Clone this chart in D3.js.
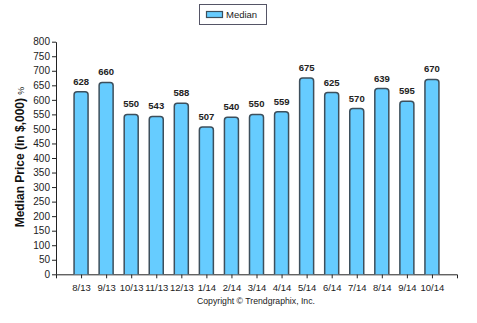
<!DOCTYPE html>
<html><head><meta charset="utf-8">
<script src="https://cdn.jsdelivr.net/npm/d3@7"></script>
<style>body{margin:0;background:#fff}svg{display:block}</style>
</head><body>
<svg id="c" width="477" height="323"></svg>
<script>
const categories = ["8/13","9/13","10/13","11/13","12/13","1/14","2/14","3/14","4/14","5/14","6/14","7/14","8/14","9/14","10/14"];
const medianValues = [628,660,550,543,588,507,540,550,559,675,625,570,639,595,670];
const yTicks = [0,50,100,150,200,250,300,350,400,450,500,550,600,650,700,750,800];

(function(){
const svg = d3.select("#c");
const mLeft = 56, mRight = 457, mTop = 41.7, mBottom = 274.3;
const font = "'Liberation Sans', Arial, sans-serif";

const x = d3.scalePoint().domain(categories).range([mLeft, mRight]).padding(1);
const y = d3.scaleLinear().domain([0, 800]).range([mBottom, mTop]);
const bw = 14;

// y axis
const ya = svg.append("g").attr("transform", `translate(${mLeft},0)`)
  .call(d3.axisLeft(y).tickValues(yTicks).tickSize(4).tickSizeOuter(0));
ya.select(".domain").attr("stroke", "#222");
ya.selectAll(".tick line").attr("stroke", "#222");
ya.selectAll(".tick text").attr("font-family", font).attr("font-size", 10).attr("fill", "#222").attr("dx", 1);

// x axis
const xa = svg.append("g").attr("transform", `translate(0,${mBottom})`)
  .call(d3.axisBottom(x).tickSize(4).tickSizeOuter(4));
xa.select(".domain").attr("stroke", "#222");
xa.selectAll(".tick line").attr("stroke", "#222");
xa.selectAll(".tick text").attr("font-family", font).attr("font-size", 9.5).attr("fill", "#222").attr("dy", "1.05em");

// bars with rounded tops
const r = 3;
svg.append("g").selectAll("path").data(medianValues).join("path")
  .attr("d", (d, i) => {
    const cx = x(categories[i]), x0 = cx - bw/2, x1 = cx + bw/2, yt = y(d), yb = y(0);
    return `M${x0},${yb}V${yt+r}Q${x0},${yt} ${x0+r},${yt}H${x1-r}Q${x1},${yt} ${x1},${yt+r}V${yb}`;
  })
  .attr("fill", "#66CCFF").attr("stroke", "#3d4f5c").attr("stroke-width", 1.5);

// value labels
svg.append("g").selectAll("text").data(medianValues).join("text")
  .attr("x", (d, i) => x(categories[i]))
  .attr("y", d => y(d) - 7)
  .attr("text-anchor", "middle")
  .attr("font-family", font).attr("font-size", 9.5).attr("font-weight", "bold").attr("fill", "#222")
  .text(d => d);

// y-axis title
const yt = svg.append("text")
  .attr("transform", "translate(24,157) rotate(-90)")
  .attr("text-anchor", "middle")
  .attr("font-family", font).attr("font-size", 12).attr("font-weight", "bold").attr("fill", "#111");
yt.append("tspan").text("Median Price (in $,000) ");
yt.append("tspan").attr("font-size", 9).attr("font-weight", "normal").text("%");

// legend
const lg = svg.append("g");
lg.append("rect").attr("x", 199.5).attr("y", 4.5).attr("width", 67).attr("height", 20)
  .attr("fill", "#fff").attr("stroke", "#556").attr("stroke-width", 1);
lg.append("rect").attr("x", 206.5).attr("y", 11.5).attr("width", 16).attr("height", 6)
  .attr("fill", "#66CCFF").attr("stroke", "#3d4f5c").attr("stroke-width", 1.2);
lg.append("text").attr("x", 226).attr("y", 18).attr("font-family", font).attr("font-size", 9.5).attr("fill", "#222").text("Median");

// copyright
svg.append("text").attr("x", 256).attr("y", 304).attr("text-anchor", "middle")
  .attr("font-family", font).attr("font-size", 8.7).attr("fill", "#222").text("Copyright © Trendgraphix, Inc.");
})();
</script>
</body></html>
